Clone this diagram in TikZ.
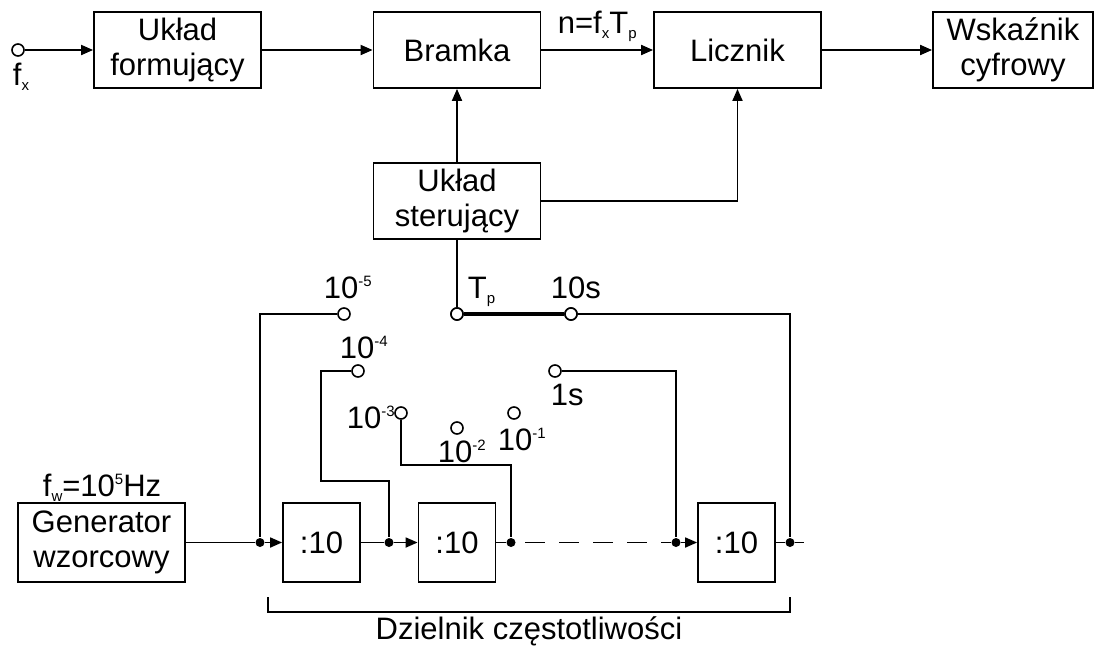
\documentclass[tikz,border=0pt]{standalone}
\usepackage{fontspec}
\setmainfont{Liberation Sans}
\usepackage{tikz}
\usetikzlibrary{arrows.meta,positioning,calc}
\newcommand{\lo}[1]{\raisebox{-5pt}{\fontsize{15}{15}\selectfont #1}}
\newcommand{\hi}[1]{\raisebox{12pt}{\fontsize{15}{15}\selectfont #1}}

\begin{document}
\begin{tikzpicture}[x=1pt,y=-1pt,line width=1.8pt,
      font=\fontsize{31}{35}\selectfont,
      blk/.style={draw,fill=white,align=center,inner sep=0pt,
                  minimum width=167pt,minimum height=76pt},
      div/.style={blk,minimum width=77pt,minimum height=79pt},
      term/.style={draw,circle,fill=white,minimum size=12pt,inner sep=0pt,line width=1.6pt},
      dot/.style={circle,fill=black,minimum size=9pt,inner sep=0pt},
      arr/.style={-{Triangle[length=12pt,width=10pt]}},
      lbl/.style={anchor=base west,inner sep=0pt},
      switch/.style={line width=4pt}]
      \useasboundingbox (0,0) rectangle (1095,646);
      % top row
      \node[term] (fx) at (18,50) {};
      \node[blk] (form) at (177.5,50) {Układ\\formujący};
      \node[blk] (bram) at (457,50) {Bramka};
      \node[blk] (licz) at (737.5,50) {Licznik};
      \node[blk,minimum width=160pt] (wsk) at (1013,50) {Wskaźnik\\cyfrowy};
      \node[blk] (ster) at (457,201) {Układ\\sterujący};
      % divider chain
      \node[blk,minimum height=79pt] (gen) at (101.5,542.5) {Generator\\wzorcowy};
      \node[div] (d1) at (321.5,542.5) {:10};
      \node[div] (d2) at (457,542.5) {:10};
      \node[div] (d3) at (736.5,542.5) {:10};
      \node[dot] (j1) at (260,542.5) {};
      \node[dot] (j2) at (389,542.5) {};
      \node[dot] (j3) at (511,542.5) {};
      \node[dot] (j4) at (676,542.5) {};
      \node[dot] (j5) at (790,542.5) {};
      \coordinate (out) at (804,542.5);
      % switch contacts
      \node[term] (c5) at (344,314) {};
      \node[term] (c4) at (358,371) {};
      \node[term] (c3) at (401,413) {};
      \node[term] (c2) at (457,428) {};
      \node[term] (c1) at (514,413) {};
      \node[term] (cs1) at (555,371) {};
      \coordinate (k4) at (321,481);
      \coordinate (k3) at (511,465);
      % connectors
      \draw[arr] (fx) -- (form);
      \draw[arr] (form) -- (bram);
      \draw[arr] (bram) -- node[above,inner sep=7pt] (nlab) {n=f\lo{x}T\lo{p}} (licz);
      \draw[arr] (licz) -- (wsk);
      \draw[arr] (ster) -- (bram);
      \draw[arr] (ster.east) -| (licz);
      \draw (c5) -| (j1);
      \draw (c4) -| (k4) -| (j2);
      \draw (c3) |- (k3) -- (j3);
      \draw (cs1) -| (j4);
      \draw (gen) -- (j1);
      \draw[arr] (j1) -- (d1);
      \draw (d1) -- (j2);
      \draw[arr] (j2) -- (d2);
      \draw (d2) -- (j3);
      \draw[dash pattern=on 20pt off 14pt,dash phase=25pt] (j3) -- (j4);
      \draw[arr] (j4) -- (d3);
      \draw (d3) -- (j5) -- (out);
      % rotary switch
      \node[term] (piv) at (457,314) {};
      \node[term] (cs10) at (571,314) {};
      \draw (ster) -- (piv);
      \draw (cs10) -| (j5);
      \draw[switch] (piv) -- (cs10);
      \node[term] at (piv) {};
      \node[term] at (cs10) {};
      % labels
      \node[lbl] (lfx) at (12,85) {f\lo{x}};
      \node[lbl] (l5) at (323,298) {10\hi{-5}};
      \node[lbl] (l4) at (339,358) {10\hi{-4}};
      \node[lbl] (l3) at (346,428) {10\hi{-3}};
      \node[lbl] (l2) at (437,462) {10\hi{-2}};
      \node[lbl] (l1) at (497,450) {10\hi{-1}};
      \node[lbl] (ls1) at (550,405) {1s};
      \node[lbl] (ltp) at (467,298) {T\lo{p}};
      \node[lbl] (ls10) at (550,298) {10s};
      \node[lbl] (lfw) at (42,496) {f\lo{w}=10\hi{5}Hz};
      % divider bracket
      \coordinate (bl) at (268,597);
      \coordinate (br) at (790,597);
      \draw (bl) -- ++(0,15) -| (br);
      \node[anchor=base,inner sep=0pt] (dz) at (529,639) {Dzielnik częstotliwości};
\end{tikzpicture}
\end{document}
